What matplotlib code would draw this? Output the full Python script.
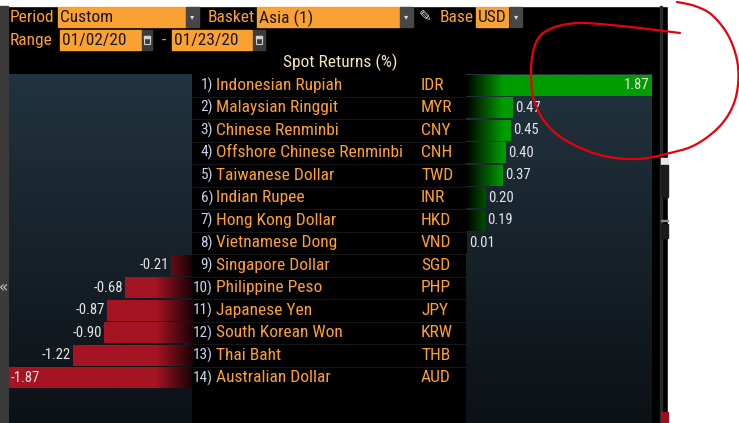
import numpy as np
import matplotlib.pyplot as plt
from matplotlib.colors import LinearSegmentedColormap
from matplotlib.patches import Rectangle

# data
ranks = [f"{i})" for i in range(1, 15)]
names = ["Indonesian Rupiah", "Malaysian Ringgit", "Chinese Renminbi",
         "Offshore Chinese Renminbi", "Taiwanese Dollar", "Indian Rupee",
         "Hong Kong Dollar", "Vietnamese Dong", "Singapore Dollar",
         "Philippine Peso", "Japanese Yen", "South Korean Won",
         "Thai Baht", "Australian Dollar"]
codes = ["IDR", "MYR", "CNY", "CNH", "TWD", "INR", "HKD", "VND",
         "SGD", "PHP", "JPY", "KRW", "THB", "AUD"]
returns = [1.87, 0.47, 0.45, 0.40, 0.37, 0.20, 0.19, 0.01,
           -0.21, -0.68, -0.87, -0.90, -1.22, -1.87]

FONT = ["Roboto Condensed", "DejaVu Sans"]
ORANGE = "#f9a133"
TXT_OR = "#ffa032"

W, H = 739, 423
fig = plt.figure(figsize=(W / 100, H / 100), dpi=100, facecolor="black")


def box(x0, y0, x1, y1):
    # pixel box (top-left origin) -> figure fraction
    return [x0 / W, 1 - y1 / H, (x1 - x0) / W, (y1 - y0) / H]


# background / chrome layer in pixel coords
bg = fig.add_axes([0, 0, 1, 1], zorder=0)
bg.set_xlim(0, W)
bg.set_ylim(H, 0)
bg.axis("off")
bg.add_patch(Rectangle((0, 0), W, 6, color="white"))
bg.add_patch(Rectangle((668, 0), W - 668, H, color="white"))
bg.add_patch(Rectangle((0, 6), 8, H, color="#3a3a3a"))
bg.add_patch(Rectangle((660, 6), 1.5, H, color="#2a2a2a"))
# cut-off bits of the next window
bg.add_patch(Rectangle((661, 158), 7, 6, color="#e6e6e6"))
bg.add_patch(Rectangle((661, 165), 7, 32, color="#1c1c1c"))
bg.add_patch(Rectangle((661, 220), 7, 1, color="#8a8a8a"))
bg.add_patch(Rectangle((661, 224), 7, 14, color="#1c1c1c"))
bg.add_patch(Rectangle((661, 412), 7, 11, color="#9a1020"))


def field(x0, y0, x1, y1, text):
    bg.add_patch(Rectangle((x0, y0), x1 - x0, y1 - y0, color=ORANGE))
    bg.text(x0 + 2, (y0 + y1) / 2 + 1, text, color="#161616", fontsize=12.5,
            family=FONT, va="center", ha="left")


def dropdown(x0, y0, x1, y1):
    bg.add_patch(Rectangle((x0, y0), x1 - x0, y1 - y0, color="#474747"))
    bg.text((x0 + x1) / 2, (y0 + y1) / 2, "\u25be", color="#d8d8d8",
            fontsize=6, ha="center", va="center", family="DejaVu Sans")


def calendar(x0, y0, x1, y1):
    bg.add_patch(Rectangle((x0, y0), x1 - x0, y1 - y0, color="#3c3c3c"))
    cx, cy = (x0 + x1) / 2, (y0 + y1) / 2
    bg.add_patch(Rectangle((cx - 3, cy - 4), 6, 8, fill=False,
                           ec="#d0d0d0", lw=0.8))
    bg.add_patch(Rectangle((cx - 3, cy - 4), 6, 2, color="#d0d0d0"))


def label(x, y, text):
    bg.text(x, y, text, color=TXT_OR, fontsize=12.5, family=FONT,
            va="center", ha="left")


label(10, 17, "Period")
field(58, 7, 185, 27, "Custom")
dropdown(186, 7, 199, 27)
label(208, 17, "Basket")
field(257, 7, 399, 27, "Asia (1)")
dropdown(400, 7, 413, 27)
bg.text(425, 17, "\u270e", color="#e0e0e0", fontsize=11, ha="center",
        va="center", family="DejaVu Sans")
label(440, 17, "Base")
field(476, 7, 508, 27, "USD")
dropdown(510, 7, 522, 27)

label(10, 40, "Range")
field(60, 30, 141, 50, "01/02/20")
calendar(142, 30, 152, 50)
bg.text(164, 40, "-", color=TXT_OR, fontsize=12.5, family=FONT,
        va="center", ha="center")
field(172, 30, 252, 50, "01/23/20")
calendar(253, 30, 265, 50)

bg.text(340, 62, "Spot Returns (%)", color="#f5e6b8", fontsize=12.5,
        family=FONT, va="center", ha="center")
bg.text(4, 288, "\u00ab", color="#c8c8c8", fontsize=11, ha="center",
        va="center", family="DejaVu Sans")

rows = np.arange(len(returns))
vals = np.array(returns)
ylim = (len(returns) + 1.0, -0.5)

panel_cmap = LinearSegmentedColormap.from_list("panel", ["#22333f", "#0c1115"])
green_cmap = LinearSegmentedColormap.from_list("g", ["#000000", "#009c00"])
red_cmap = LinearSegmentedColormap.from_list("r", ["#a51423", "#1a0306"])


def panel(rect, xlim):
    ax = fig.add_axes(rect, zorder=1)
    ax.set_xlim(*xlim)
    ax.set_ylim(*ylim)
    ax.axis("off")
    ax.imshow(np.linspace(0, 1, 64)[:, None], cmap=panel_cmap, aspect="auto",
              extent=[0, 1, 0, 1], transform=ax.transAxes, zorder=0)
    return ax


ax_pos = panel(box(466, 74, 652, 423), (0, max(vals)))
ax_neg = panel(box(9, 74, 192, 423), (min(vals), 0))

VAL_FS = 10.5
fade = 0.37  # width of the dark fade next to the labels, in % units
pos = vals > 0
bars = ax_pos.barh(rows[pos], vals[pos], height=0.93, color="#009c00", zorder=1)
xs = np.linspace(0, max(vals), 400)
for b in bars:
    im = ax_pos.imshow(np.clip(xs / fade, 0, 1)[None, :], cmap=green_cmap,
                       aspect="auto", extent=[0, max(vals), 15, -1],
                       vmin=0, vmax=1, zorder=2)
    im.set_clip_path(b)
for r, v in zip(rows[pos], vals[pos]):
    if v > 1.5:
        ax_pos.annotate(f"{v:.2f}", (v, r), xytext=(-2, 0),
                        textcoords="offset points", ha="right", va="center",
                        color="#e6e6e6", fontsize=VAL_FS, family=FONT)
    else:
        ax_pos.annotate(f"{v:.2f}", (v, r), xytext=(1.5, 0),
                        textcoords="offset points", ha="left", va="center",
                        color="#e6e6e6", fontsize=VAL_FS, family=FONT)

neg = vals < 0
bars = ax_neg.barh(rows[neg], vals[neg], height=0.93, color="#a51423", zorder=1)
xs = np.linspace(min(vals), 0, 400)
for b in bars:
    im = ax_neg.imshow(np.clip((xs + fade) / fade, 0, 1)[None, :],
                       cmap=red_cmap, aspect="auto",
                       extent=[min(vals), 0, 15, -1], vmin=0, vmax=1, zorder=2)
    im.set_clip_path(b)
for r, v in zip(rows[neg], vals[neg]):
    if v < -1.5:
        ax_neg.annotate(f"{v:.2f}", (v, r), xytext=(1.5, 0),
                        textcoords="offset points", ha="left", va="center",
                        color="#e6e6e6", fontsize=VAL_FS, family=FONT)
    else:
        ax_neg.annotate(f"{v:.2f}", (v, r), xytext=(-1.5, 0),
                        textcoords="offset points", ha="right", va="center",
                        color="#e6e6e6", fontsize=VAL_FS, family=FONT)

# label column between the two panels
ax_lab = fig.add_axes(box(192, 74, 466, 423), zorder=1)
ax_lab.set_xlim(192, 466)
ax_lab.set_ylim(*ylim)
ax_lab.axis("off")
ax_lab.hlines(rows[:-1] + 0.5, 192, 466, color="#161616", lw=0.8)
for r, rk, nm, cd in zip(rows, ranks, names, codes):
    ax_lab.text(213, r, rk, color="#c4d4ec", fontsize=11, family=FONT,
                ha="right", va="center")
    ax_lab.text(216, r, nm, color=TXT_OR, fontsize=12.5, family=FONT,
                ha="left", va="center")
    ax_lab.text(421, r, cd, color=TXT_OR, fontsize=12.5, family=FONT,
                ha="left", va="center")

# hand-drawn red loop on the screenshot
top = fig.add_axes([0, 0, 1, 1], zorder=5)
top.set_xlim(0, W)
top.set_ylim(H, 0)
top.axis("off")
loop = np.array([(680, 33), (640, 28), (600, 24), (577, 23), (555, 27),
                 (540, 36), (533, 52), (531, 75), (534, 100), (545, 122),
                 (565, 140), (600, 155), (637, 159), (670, 153), (695, 145),
                 (718, 128), (732, 108), (738, 85), (737, 60), (728, 35),
                 (712, 15), (695, 6), (677, 2)], dtype=float)
pts = np.vstack([loop[0], loop, loop[-1]])
curve = []
for i in range(1, len(pts) - 2):
    p0, p1, p2, p3 = pts[i - 1], pts[i], pts[i + 1], pts[i + 2]
    for t in np.linspace(0, 1, 12, endpoint=False):
        curve.append(0.5 * (2 * p1 + (-p0 + p2) * t
                            + (2 * p0 - 5 * p1 + 4 * p2 - p3) * t ** 2
                            + (-p0 + 3 * p1 - 3 * p2 + p3) * t ** 3))
curve.append(loop[-1])
curve = np.array(curve)
top.plot(curve[:, 0], curve[:, 1], color="#e8000b", lw=1.6,
         solid_capstyle="round")

fig.savefig("out.png", dpi=100, facecolor="black")
